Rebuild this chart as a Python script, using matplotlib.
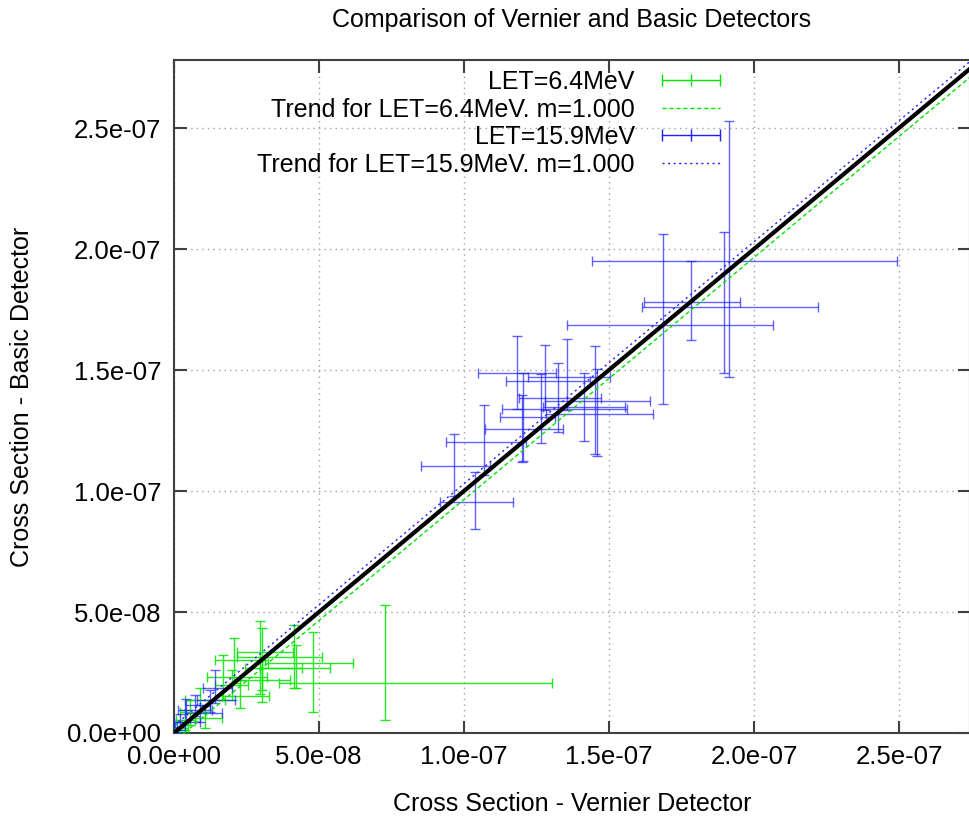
import numpy as np
import matplotlib
matplotlib.use("Agg")
import matplotlib.pyplot as plt
from matplotlib.lines import Line2D
from matplotlib.ticker import FormatStrFormatter, MultipleLocator

plt.rcParams['font.family'] = ['Liberation Sans', 'DejaVu Sans']

SCALE = 1e-9  # values below are in units of 1e-9

# LET = 6.4 MeV (green) : centre, lower and upper bounds
g_x   = [72.8, 47.9, 41.4, 29.7, 30.3, 20.7, 16.9, 22.8, 30.3, 20.0, 9.0, 5.5, 3.8, 2.1, 10.7, 42.1]
g_xlo = [36.2, 32.4, 21.7, 24.5, 21.7, 14.1, 11.4, 16.6, 22.8, 14.1, 3.8, 2.1, 0.7, 0.3, 7.2, 29.7]
g_xhi = [130.3, 61.7, 51.0, 44.1, 41.0, 31.4, 32.1, 32.8, 40.0, 25.5, 17.6, 10.7, 7.2, 4.8, 16.6, 53.8]
g_y   = [20.7, 28.9, 31.4, 26.9, 33.5, 30.2, 23.1, 15.3, 21.9, 19.8, 13.6, 8.7, 5.4, 2.1, 6.2, 26.9]
g_ylo = [5.4, 8.7, 18.6, 16.1, 17.8, 20.7, 13.6, 10.3, 12.8, 13.6, 8.7, 3.3, 1.2, 0.0, 2.1, 18.6]
g_yhi = [52.9, 41.7, 44.6, 46.3, 43.4, 39.3, 32.2, 21.9, 30.2, 26.0, 18.6, 13.6, 9.5, 5.4, 11.2, 36.4]

# LET = 15.9 MeV (blue)
b_x   = [191.4, 189.6, 178.3, 168.6, 118.3, 135.5, 127.9, 132.4, 141.4, 145.2, 145.8, 126.5, 120.3,
         120.0, 106.9, 96.5, 103.8, 14.1, 12.4, 4.1, 9.0, 2.1, 7.2, 1.0]
b_xlo = [144.1, 161.4, 162.1, 135.5, 104.8, 122.1, 114.5, 119.0, 127.2, 127.9, 128.3, 113.1, 112.4,
         107.2, 93.8, 85.2, 91.7, 10.0, 7.9, 1.4, 3.8, 0.0, 3.8, 0.0]
b_xhi = [249.3, 222.1, 195.2, 206.5, 131.7, 150.3, 143.4, 147.2, 155.5, 164.1, 165.2, 156.2, 131.4,
         134.1, 121.4, 109.0, 116.9, 20.0, 21.0, 13.1, 16.6, 9.0, 12.4, 3.8]
b_y   = [195.0, 176.0, 178.1, 168.6, 148.8, 147.1, 145.4, 138.4, 134.7, 137.2, 131.8, 133.9, 130.6,
         125.6, 120.2, 110.3, 95.4, 18.6, 13.6, 9.5, 8.3, 4.5, 11.6, 2.5]
b_ylo = [147.1, 148.8, 162.4, 135.9, 133.9, 133.5, 133.5, 124.4, 120.7, 115.3, 114.5, 119.8, 112.4,
         112.0, 106.6, 97.9, 84.3, 12.4, 8.7, 4.5, 4.5, 1.2, 7.0, 0.0]
b_yhi = [252.9, 207.0, 195.0, 206.2, 164.0, 162.8, 160.3, 152.9, 148.8, 159.9, 150.4, 148.3, 148.8,
         139.7, 135.5, 123.5, 107.8, 26.0, 17.8, 14.0, 11.6, 7.9, 15.7, 4.5]

# trend lines (slope m = 1.000) intercepts, units of 1e-9
g_slope, g_icpt = 1.000, -3.5
b_slope, b_icpt = 1.000, 3.0

XMAX = 274.5 * SCALE
YMAX = 278.1 * SCALE

GREEN = '#00e600'
BLUE = '#2020ff'
FS = 18


def arr(v):
    return np.asarray(v, dtype=float) * SCALE


fig = plt.figure(figsize=(9.7, 8.17), dpi=100)
ax = fig.add_axes([174 / 970, 1 - 733 / 817, 796 / 970, 673 / 817])

# green data
gx, gy = arr(g_x), arr(g_y)
ax.errorbar(gx, gy, xerr=[gx - arr(g_xlo), arr(g_xhi) - gx],
            yerr=[gy - arr(g_ylo), arr(g_yhi) - gy], fmt='none',
            ecolor=GREEN, elinewidth=1.0, capsize=3.5, capthick=1.0, alpha=0.85, zorder=3)
xs = np.array([0.0, XMAX * 1.05])
ax.plot(xs, g_slope * xs + g_icpt * SCALE, color=GREEN, ls=(0, (3, 2)), lw=1.0, zorder=4)

# blue data
bx, by = arr(b_x), arr(b_y)
ax.errorbar(bx, by, xerr=[bx - arr(b_xlo), arr(b_xhi) - bx],
            yerr=[by - arr(b_ylo), arr(b_yhi) - by], fmt='none',
            ecolor=BLUE, elinewidth=1.0, capsize=3.5, capthick=1.0, alpha=0.7, zorder=3)
ax.plot(xs, b_slope * xs + b_icpt * SCALE, color=BLUE, ls=(0, (1.5, 2.5)), lw=1.0, zorder=4)

# identity line
ax.plot(xs, xs, color='black', lw=3, zorder=5)

ax.set_xlim(0, XMAX)
ax.set_ylim(0, YMAX)
ax.xaxis.set_major_locator(MultipleLocator(5e-8))
ax.yaxis.set_major_locator(MultipleLocator(5e-8))
ax.xaxis.set_major_formatter(FormatStrFormatter('%.1e'))
ax.yaxis.set_major_formatter(FormatStrFormatter('%.1e'))
ax.tick_params(direction='in', length=9, width=1.5, color='#404040',
               top=True, right=True, labelsize=FS + 0.5, pad=9)
for s in ax.spines.values():
    s.set_color('#404040')
    s.set_linewidth(1.5)
ax.grid(True, ls=(0, (1, 3)), color='#a0a0a0', lw=1.0)
ax.set_axisbelow(True)

ax.set_xlabel('Cross Section - Vernier Detector', fontsize=FS, labelpad=16)
ax.set_ylabel('Cross Section - Basic Detector', fontsize=FS, labelpad=24)
ax.set_title('Comparison of Vernier and Basic Detectors', fontsize=FS, pad=24)

handles = [
    Line2D([], [], color=GREEN, lw=1.0, marker='|', markersize=8, markeredgewidth=1.0),
    Line2D([], [], color=GREEN, lw=1.0, ls=(0, (3, 2))),
    Line2D([], [], color=BLUE, lw=1.0, marker='|', markersize=8, markeredgewidth=1.0),
    Line2D([], [], color=BLUE, lw=1.0, ls=(0, (1.5, 2.5))),
]
labels = ['LET=6.4MeV', 'Trend for LET=6.4MeV. m=1.000',
          'LET=15.9MeV', 'Trend for LET=15.9MeV. m=1.000']
ax.legend(handles, labels, loc='upper right', bbox_to_anchor=(0.695, 0.985),
          frameon=False, fontsize=FS, markerfirst=False, numpoints=3,
          handlelength=2.9, handletextpad=0.8, labelspacing=0.14,
          borderpad=0, borderaxespad=0)

fig.savefig('out.png', dpi=100)
